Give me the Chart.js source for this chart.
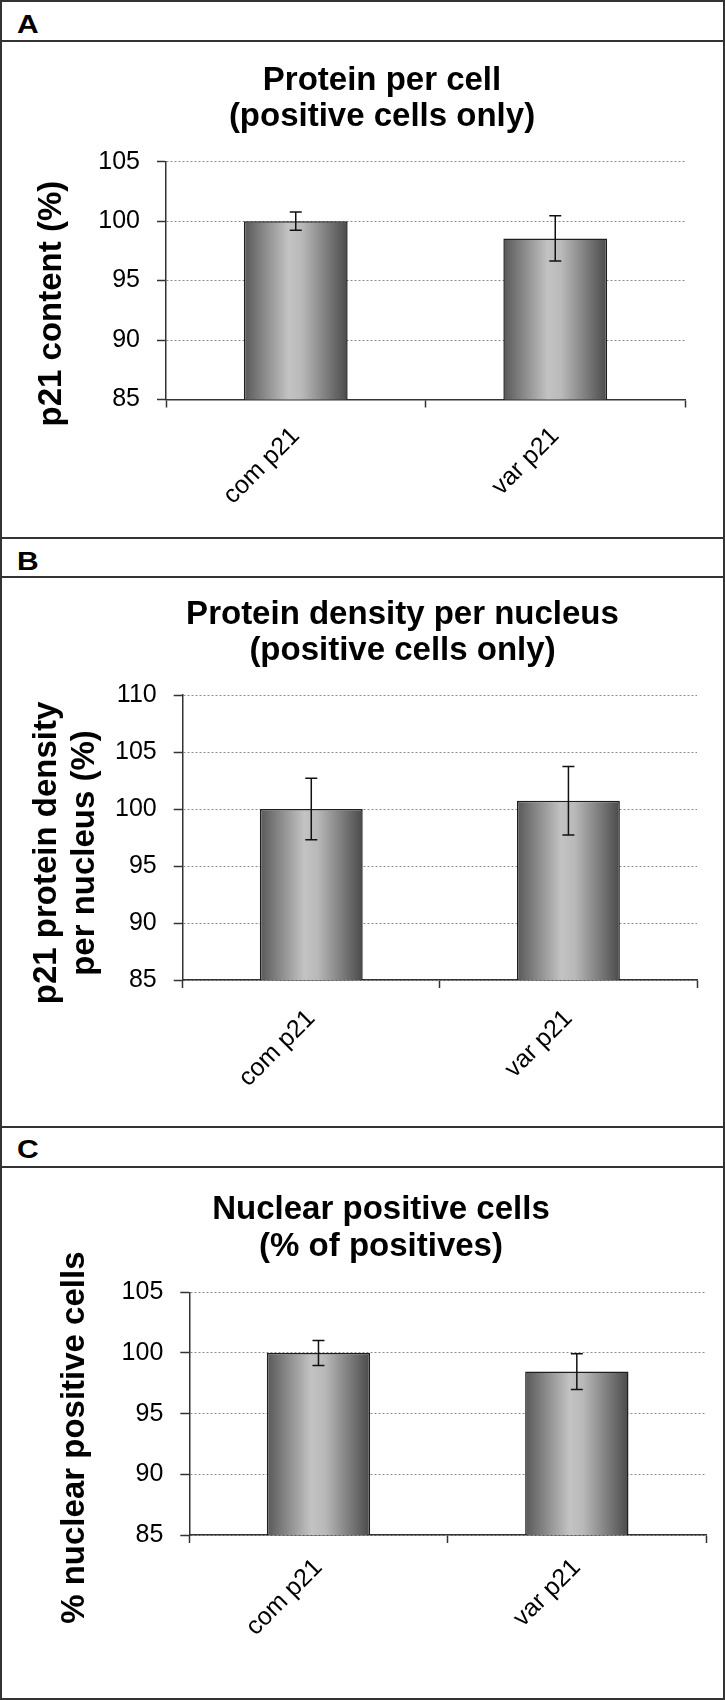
<!DOCTYPE html>
<html>
<head>
<meta charset="utf-8">
<script src="https://cdn.jsdelivr.net/npm/chart.js@4.4.1/dist/chart.umd.min.js"></script>
<style>
  body { margin: 0; background: #fff; }
  #page { position: relative; width: 725px; height: 1700px; background: #fff; overflow: hidden; }
  .frame { position: absolute; left: 0; top: 0; width: 725px; height: 1700px; box-sizing: border-box; border: 2px solid #333; }
  .hline { position: absolute; left: 0; width: 725px; height: 2px; background: #333; }
  .tag { position: absolute; left: 17px; font: bold 25px "Liberation Sans", Arial, sans-serif; line-height: 25px; color: #000;
         transform: scaleX(1.2); transform-origin: left top; }
  canvas { position: absolute; left: 2px; }
</style>
</head>
<body>
<div id="page">
  <div class="frame"></div>
  <div class="hline" style="top:40px"></div>
  <div class="hline" style="top:537px"></div>
  <div class="hline" style="top:576px"></div>
  <div class="hline" style="top:1126px"></div>
  <div class="hline" style="top:1166px"></div>
  <div class="tag" style="top:12px">A</div>
  <div class="tag" style="top:549px">B</div>
  <div class="tag" style="top:1137px">C</div>
  <canvas id="chartA" width="721" height="495" style="top:42px"></canvas>
  <canvas id="chartB" width="721" height="549" style="top:578px"></canvas>
  <canvas id="chartC" width="721" height="530" style="top:1168px"></canvas>
</div>
<script>
// data
const categories = ['com p21', 'var p21'];

const perCellValues = [100, 98.55];
const perCellErrors = [0.77, 1.9];

const densityValues = [100, 100.72];
const densityErrors = [2.7, 3.0];

const nuclearValues = [100, 98.47];
const nuclearErrors = [1.03, 1.47];

const yRangeA = [85, 105];
const yRangeB = [85, 110];
const yRangeC = [85, 105];
const yStep = 5;

const FONT = '"Liberation Sans", Arial, sans-serif';
const BAR_PCT = 0.4;

// error bars drawn from the y scale
const errorBars = {
    id: 'errorBars',
    afterDatasetsDraw(chart, args, opts) {
        const ctx = chart.ctx;
        const ys = chart.scales.y;
        const meta = chart.getDatasetMeta(0);
        const values = chart.data.datasets[0].data;
        ctx.save();
        ctx.strokeStyle = '#111';
        ctx.lineWidth = 1.5;
        meta.data.forEach((bar, i) => {
            const top = ys.getPixelForValue(values[i] + opts.errors[i]);
            const bot = ys.getPixelForValue(values[i] - opts.errors[i]);
            ctx.beginPath();
            ctx.moveTo(bar.x, top); ctx.lineTo(bar.x, bot);
            ctx.moveTo(bar.x - 6, top); ctx.lineTo(bar.x + 6, top);
            ctx.moveTo(bar.x - 6, bot); ctx.lineTo(bar.x + 6, bot);
            ctx.stroke();
        });
        ctx.restore();
    }
};

// rotated y title, centred a bit below the plot centre like the original
const yTitle = {
    id: 'yTitle',
    afterDraw(chart, args, opts) {
        const ctx = chart.ctx;
        const area = chart.chartArea;
        const cy = (area.top + area.bottom) / 2 + opts.shift;
        ctx.save();
        ctx.fillStyle = '#000';
        ctx.font = 'bold 33px ' + FONT;
        ctx.textAlign = 'center';
        ctx.textBaseline = 'middle';
        opts.lines.forEach((line, i) => {
            ctx.save();
            ctx.translate(opts.x + i * 38, cy);
            ctx.rotate(-Math.PI / 2);
            ctx.fillText(line, 0, 0);
            ctx.restore();
        });
        ctx.restore();
    }
};

function barGradient(c) {
    const chart = c.chart;
    const xs = chart.scales.x;
    if (!xs || !chart.chartArea || c.dataIndex === undefined) return '#999';
    const cx = xs.getPixelForValue(c.dataIndex);
    const half = xs.width / categories.length * BAR_PCT / 2;
    if (!isFinite(cx) || !isFinite(half) || half <= 0) return '#999';
    const g = chart.ctx.createLinearGradient(cx - half, 0, cx + half, 0);
    g.addColorStop(0, '#585858');
    g.addColorStop(0.43, '#c3c3c3');
    g.addColorStop(0.56, '#b9b9b9');
    g.addColorStop(1, '#4a4a4a');
    return g;
}

function makeChart(id, cfg) {
    return new Chart(document.getElementById(id), {
        type: 'bar',
        data: {
            labels: categories,
            datasets: [{
                data: cfg.values,
                backgroundColor: barGradient,
                borderColor: '#1e1e1e',
                borderWidth: 1.5,
                barPercentage: BAR_PCT,
                categoryPercentage: 1
            }]
        },
        options: {
            responsive: false,
            animation: false,
            devicePixelRatio: 1,
            layout: { padding: { left: cfg.padL, right: cfg.padR, top: 0, bottom: 0 } },
            plugins: {
                legend: { display: false },
                tooltip: { enabled: false },
                title: {
                    display: true,
                    text: cfg.title,
                    color: '#000',
                    font: { family: FONT, size: 33, weight: 'bold', lineHeight: 1.1 },
                    padding: { top: cfg.titleTop, bottom: cfg.titleBottom }
                },
                errorBars: { errors: cfg.errors },
                yTitle: { lines: cfg.yTitle, x: cfg.yTitleX, shift: cfg.yTitleShift }
            },
            scales: {
                x: {
                    grid: { offset: true, drawOnChartArea: false, tickLength: 8, tickColor: '#333', tickWidth: 1.5 },
                    border: { color: '#333', width: 1.5 },
                    ticks: {
                        minRotation: 45, maxRotation: 45, padding: cfg.xPad,
                        color: '#000', font: { family: FONT, size: 25 }
                    },
                    afterFit: s => { s.height = cfg.xHeight; }
                },
                y: {
                    min: cfg.yRange[0],
                    max: cfg.yRange[1],
                    grid: { color: '#8a8a8a', lineWidth: 1, tickLength: 9, tickColor: '#333', tickWidth: 1.5 },
                    border: { color: '#333', width: 1.5, dash: [2, 2] },
                    ticks: {
                        stepSize: yStep, padding: 17,
                        color: '#000', font: { family: FONT, size: 25 }
                    },
                    afterFit: s => { s.width = cfg.yWidth; }
                }
            }
        },
        plugins: [errorBars, yTitle]
    });
}

makeChart('chartA', {
    values: perCellValues, errors: perCellErrors, yRange: yRangeA,
    title: ['Protein per cell', '(positive cells only)'],
    yTitle: ['p21 content (%)'],
    padL: 77, padR: 38, yWidth: 87, xHeight: 137.5, xPad: 14,
    titleTop: 20.5, titleBottom: 26.6,
    yTitleX: 50, yTitleShift: 23
});

makeChart('chartB', {
    values: densityValues, errors: densityErrors, yRange: yRangeB,
    title: ['Protein density per nucleus', '(positive cells only)'],
    yTitle: ['p21 protein density', 'per nucleus (%)'],
    padL: 106, padR: 26, yWidth: 74.7, xHeight: 147, xPad: 16,
    titleTop: 18.5, titleBottom: 25.9,
    yTitleX: 45, yTitleShift: 15.5
});

makeChart('chartC', {
    values: nuclearValues, errors: nuclearErrors, yRange: yRangeC,
    title: ['Nuclear positive cells', '(% of positives)'],
    yTitle: ['% nuclear positive cells'],
    padL: 54, padR: 17, yWidth: 133.3, xHeight: 163, xPad: 10,
    titleTop: 24.2, titleBottom: 27.5,
    yTitleX: 72.6, yTitleShift: 24
});
</script>
</body>
</html>
